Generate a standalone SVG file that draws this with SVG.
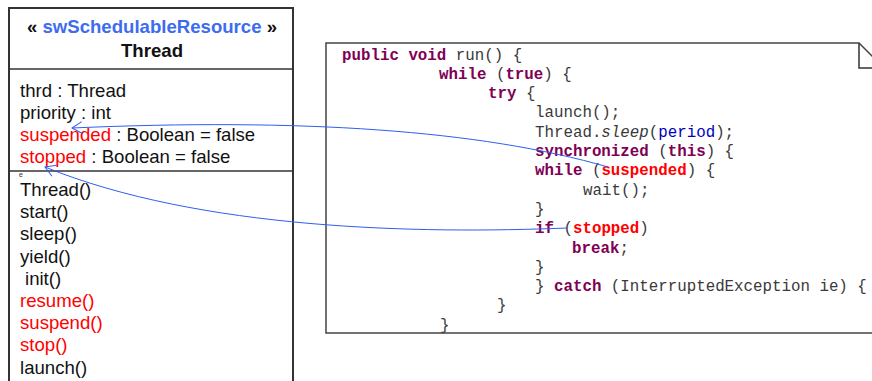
<svg xmlns="http://www.w3.org/2000/svg" width="872" height="381" viewBox="0 0 872 381">
<style>
.cls{font-family:"Liberation Sans",Arial,sans-serif;font-size:18.6px;fill:#111}
.b{font-weight:bold}
.st{fill:#3d6cf0}
.red{fill:#ff0000}
.code{font-family:"Liberation Mono","Courier New",monospace;font-size:15.8px;fill:#3a3a3a}
.kw{fill:#7f0055;font-weight:bold}
.rk{fill:#ff0000;font-weight:bold}
.fld{fill:#0000c0}
.it{font-style:italic}
.conn{fill:none;stroke:#2f5ef0;stroke-width:1}
</style>
<defs>
<marker id="open" viewBox="-11 -8 12 16" refX="0" refY="0" markerWidth="12" markerHeight="16" markerUnits="userSpaceOnUse" orient="auto">
<path d="M-10,-6 L0,0 L-10,6" fill="none" stroke="#2f5ef0" stroke-width="1"/>
</marker>
</defs>
<rect width="872" height="381" fill="#ffffff"/>
<g id="thread-class">
<rect x="9" y="8" width="284" height="400" fill="#ffffff" stroke="#333" stroke-width="2"/>
<line x1="9" y1="69" x2="293" y2="69" stroke="#333" stroke-width="1.5"/>
<line x1="9" y1="171" x2="293" y2="171" stroke="#333" stroke-width="1.5"/>
<text class="cls b" x="152" y="32.5" text-anchor="middle">« <tspan class="st">swSchedulableResource</tspan> »</text>
<text class="cls b" x="152" y="56.5" text-anchor="middle">Thread</text>
<text class="cls" x="20" y="96.5">thrd : Thread</text>
<text class="cls" x="20" y="118.5">priority : int</text>
<text class="cls" x="20" y="140.5"><tspan class="red">suspended</tspan> : Boolean = false</text>
<text class="cls" x="20" y="163"><tspan class="red">stopped</tspan> : Boolean = false</text>
<text x="19" y="177" font-family="Liberation Sans,Arial,sans-serif" font-size="7" fill="#333">e</text>
<text class="cls" x="20" y="196">Thread()</text>
<text class="cls" x="20" y="218.2">start()</text>
<text class="cls" x="20" y="240.4">sleep()</text>
<text class="cls" x="20" y="262.6">yield()</text>
<text class="cls" x="25" y="284.8">init()</text>
<text class="cls red" x="20" y="307">resume()</text>
<text class="cls red" x="20" y="329.2">suspend()</text>
<text class="cls red" x="20" y="351.4">stop()</text>
<text class="cls" x="20" y="373.6">launch()</text>
</g>
<g id="run-note">
<path d="M326,43 H859 L884,68 V333 H326 Z" fill="#ffffff" stroke="#444" stroke-width="1.5"/>
<path d="M859,43 V68 H884" fill="none" stroke="#333" stroke-width="1.5"/>
<text class="code" xml:space="preserve">
<tspan x="342" y="59.5"><tspan class="kw">public</tspan> <tspan class="kw">void</tspan> run() {</tspan>
<tspan x="439" y="78.8"><tspan class="kw">while</tspan> (<tspan class="kw">true</tspan>) {</tspan>
<tspan x="488" y="98.1"><tspan class="kw">try</tspan> {</tspan>
<tspan x="535" y="117.4">launch();</tspan>
<tspan x="535" y="136.7">Thread.<tspan class="it">sleep</tspan>(<tspan class="fld">period</tspan>);</tspan>
<tspan x="535" y="156"><tspan class="kw">synchronized</tspan> (<tspan class="kw">this</tspan>) {</tspan>
<tspan x="535" y="175.3"><tspan class="kw">while</tspan> (<tspan class="rk">suspended</tspan>) {</tspan>
<tspan x="583" y="194.6">wait();</tspan>
<tspan x="535" y="213.9">}</tspan>
<tspan x="535" y="233.2"><tspan class="kw">if</tspan> (<tspan class="rk">stopped</tspan>)</tspan>
<tspan x="572" y="252.5"><tspan class="kw">break</tspan>;</tspan>
<tspan x="535" y="271.8">}</tspan>
<tspan x="535" y="291.1">} <tspan class="kw">catch</tspan> (InterruptedException ie) {</tspan>
<tspan x="497" y="310.4">}</tspan>
<tspan x="440" y="329.7">}</tspan>
</text>
</g>
<g id="connectors">
<path class="conn" d="M608,167 C480,130 300,118 72,128" marker-end="url(#open)"/>
<path class="conn" d="M567,228 C420,234 200,230 45,167" marker-end="url(#open)"/>
</g>
</svg>
